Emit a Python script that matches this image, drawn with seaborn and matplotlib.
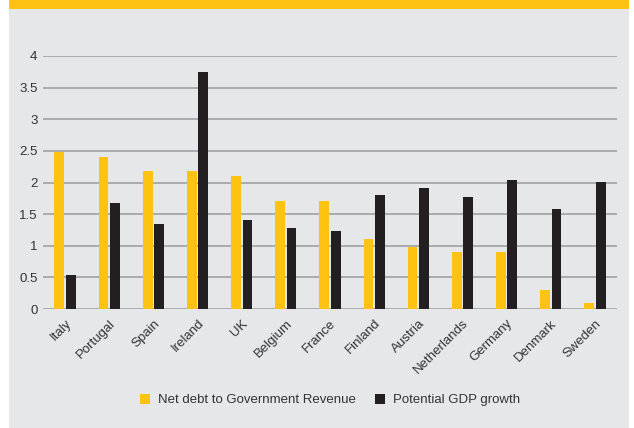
import matplotlib
matplotlib.use("Agg")
import matplotlib.pyplot as plt
from matplotlib.patches import Rectangle
import pandas as pd
import seaborn as sns

countries = ["Italy", "Portugal", "Spain", "Ireland", "UK", "Belgium", "France",
             "Finland", "Austria", "Netherlands", "Germany", "Denmark", "Sweden"]
net_debt = [2.48, 2.40, 2.18, 2.18, 2.10, 1.71, 1.71, 1.11, 0.98, 0.90, 0.90, 0.30, 0.10]
gdp_growth = [0.54, 1.68, 1.34, 3.75, 1.41, 1.28, 1.23, 1.80, 1.91, 1.77, 2.04, 1.58, 2.01]
series_names = ["Net debt to Government Revenue", "Potential GDP growth"]
y_ticks = [0, 0.5, 1, 1.5, 2, 2.5, 3, 3.5, 4]
y_tick_labels = ["0", "0.5", "1", "1.5", "2", "2.5", "3", "3.5", "4"]

YELLOW = "#fec312"
DARK = "#231f20"
PANEL = "#e6e7e8"
GRID = "#a9abae"
TEXT = "#333333"

df = pd.DataFrame({
    "country": countries * 2,
    "value": net_debt + gdp_growth,
    "series": [series_names[0]] * len(countries) + [series_names[1]] * len(countries),
})

sns.set_theme(style="white")
plt.rcParams["font.family"] = ["Liberation Sans", "DejaVu Sans"]

W, H = 634, 428
fig = plt.figure(figsize=(W / 100, H / 100), dpi=100, facecolor="white")

# grey panel with a yellow band across the top
fig.add_artist(Rectangle((9 / W, 0), 620 / W, 1, transform=fig.transFigure,
                         facecolor=PANEL, edgecolor="none", zorder=-10))
fig.add_artist(Rectangle((9 / W, 1 - 9 / H), 620 / W, 9 / H, transform=fig.transFigure,
                         facecolor=YELLOW, edgecolor="none", zorder=-9))

left, right, top, bottom = 43, 617, 56, 309
ax = fig.add_axes([left / W, 1 - bottom / H, (right - left) / W, (bottom - top) / H])
ax.set_facecolor("none")

sns.barplot(data=df, x="country", y="value", hue="series", order=countries,
            hue_order=series_names, palette=[YELLOW, DARK], width=0.52, gap=0.15,
            saturation=1, linewidth=0, edgecolor="none", ax=ax)

ax.set_ylim(0, 4)
ax.set_xlim(-0.5, len(countries) - 0.5)
ax.set_yticks(y_ticks)
ax.set_yticklabels(y_tick_labels)
ax.set_xlabel("")
ax.set_ylabel("")
ax.set_axisbelow(True)
ax.yaxis.grid(True, color=GRID, linewidth=1.4)
ax.xaxis.grid(False)
for s in ax.spines.values():
    s.set_visible(False)
ax.tick_params(axis="both", length=0, labelsize=9.5, labelcolor=TEXT)
ax.tick_params(axis="y", pad=4)
ax.tick_params(axis="x", pad=6)
for lbl in ax.get_xticklabels():
    lbl.set_rotation(45)
    lbl.set_ha("right")
    lbl.set_rotation_mode("anchor")

sns.move_legend(ax, loc="center", bbox_to_anchor=(330 / W, 1 - 400 / H),
                bbox_transform=fig.transFigure, ncol=2, frameon=False, title=None,
                fontsize=9.5, handlelength=0.8, handleheight=0.8,
                handletextpad=0.6, columnspacing=1.4, labelcolor=TEXT)
for h in ax.get_legend().legend_handles:
    h.set_linewidth(0)
    h.set_edgecolor("none")

fig.savefig("out.png", dpi=100, facecolor="white")
